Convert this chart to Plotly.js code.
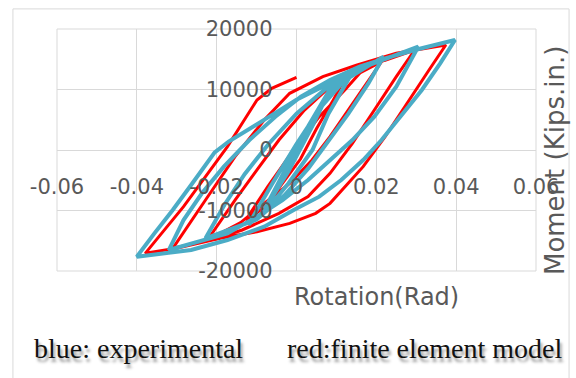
<!DOCTYPE html>
<html>
<head>
<meta charset="utf-8">
<script src="https://cdn.plot.ly/plotly-3.0.1.min.js"></script>
<style>
  body { margin: 0; background: #ffffff; }
  #chart { width: 576px; height: 378px; }
</style>
</head>
<body>
<div id="chart"></div>
<script>
// finite element model (red) - rotation (rad) / moment (kips.in.)
const redRotation = [
    0, 0.004, 0.009, 0.013, 0.009, 0.005, 0.001, -0.004, -0.008, -0.0127,
    -0.0072, -0.0007, 0.0057, 0.0121, 0.016, 0.0213,
    0.0176, 0.013, 0.0084, 0.0039, -0.0017, -0.0081, -0.014, -0.0223,
    -0.0154, -0.0099, -0.0044, 0.002, 0.0084, 0.015, 0.022, 0.0296,
    0.025, 0.0195, 0.014, 0.0084, 0.0029, -0.0044, -0.0136, -0.022, -0.031,
    -0.0228, -0.0154, -0.0081, -0.0017, 0.0066, 0.015, 0.025, 0.0374,
    0.0332, 0.0277, 0.0222, 0.0167, 0.0121, 0.0084, 0.0048, -0.0017, -0.0099, -0.0191, -0.0301, -0.0379,
    -0.0338, -0.0283, -0.0228, -0.0173, -0.0136, -0.0099, -0.0062, 0
];
const redMoment = [
    0, 5000, 10000, 12950, 8000, 3500, -1500, -6000, -9500, -11570,
    -6060, 0, 5510, 9920, 12800, 14600,
    11020, 6610, 2200, -1650, -5510, -8820, -12000, -14880,
    -8270, -3300, 1650, 6600, 10470, 13000, 14800, 16530,
    12120, 6610, 1100, -3860, -7710, -10470, -13220, -15000, -16250,
    -8270, -1100, 4960, 9370, 12120, 14000, 16000, 17360,
    13220, 7710, 2200, -2750, -6060, -8820, -10470, -12120, -13500, -14600, -16250, -17080,
    -13780, -9370, -4410, 550, 4410, 8265, 10200, 12000
];

// experimental (blue)
const blueRotation = [
    0, 0.004, 0.009, 0.004, -0.002, -0.008, -0.003, 0.003,
    0.007, 0.01, 0.014, 0.008, 0.004, -0.002, -0.007, -0.012,
    -0.006, 0, 0.006, 0.012, 0.0218,
    0.018, 0.013, 0.008, 0.003, -0.003, -0.01, -0.0228,
    -0.018, -0.013, -0.007, 0, 0.008, 0.016, 0.0305,
    0.025, 0.0195, 0.014, 0.0084, 0.0029, -0.0035, -0.0099, -0.0173, -0.032,
    -0.0283, -0.0237, -0.0182, -0.0118, -0.0053, 0.0011, 0.0084, 0.0158, 0.0222, 0.0296, 0.0397,
    0.036, 0.0314, 0.0268, 0.0213, 0.0167, 0.0112, 0.0057, -0.0007, -0.0081, -0.0173, -0.0264, -0.04,
    -0.0356, -0.031, -0.0264, -0.0235, -0.0205, -0.017, -0.012, -0.0068, 0, 0.0083, 0.013
];
const blueMoment = [
    0, 5000, 10800, 4000, -3500, -9800, -3500, 4000,
    8500, 10800, 12800, 6000, 0, -5500, -9500, -12300,
    -5500, 1000, 7000, 11500, 15430,
    11000, 6000, 1500, -3000, -7500, -11500, -14600,
    -9000, -4000, 1000, 6000, 10500, 13500, 17080,
    10470, 5510, 1650, -1650, -4960, -8270, -11020, -13780, -16530,
    -11570, -7160, -2750, 1650, 5510, 8820, 11570, 13780, 15150, 16530, 18180,
    14330, 9920, 6060, 1650, -1650, -4960, -7710, -9920, -12670, -14880, -16530, -17630,
    -13780, -9920, -5790, -3000, -400, 1400, 3500, 5510, 8300, 11020, 12950
];

const xTickVals = [-0.06, -0.04, -0.02, 0, 0.02, 0.04, 0.06];
const xTickText = ['-0.06', '-0.04', '-0.02', '0', '0.02', '0.04', '0.06'];
const yTickVals = [-20000, -10000, 0, 10000, 20000];
const yTickText = ['-20000', '-10000', '0', '10000', '20000'];

const labelFont = { family: 'DejaVu Sans', size: 21, color: '#595959' };
const captionFont = { family: 'Liberation Serif', size: 28, color: '#111111', shadow: '2px 4px 3px #9a9a9a' };

const traces = [
    {
        x: redRotation, y: redMoment,
        type: 'scatter', mode: 'lines',
        line: { color: '#ff0000', width: 3 },
        name: 'finite element model'
    },
    {
        x: blueRotation, y: blueMoment,
        type: 'scatter', mode: 'lines',
        line: { color: '#4bacc6', width: 4 },
        name: 'experimental'
    }
];

const layout = {
    width: 576,
    height: 378,
    margin: { l: 57, r: 40, t: 29, b: 107 },
    paper_bgcolor: '#ffffff',
    plot_bgcolor: '#ffffff',
    showlegend: false,
    xaxis: {
        range: [-0.06, 0.06],
        tickvals: xTickVals,
        ticktext: xTickText,
        ticks: '',
        tickfont: labelFont,
        showgrid: true,
        gridcolor: '#d9d9d9',
        zeroline: true,
        zerolinecolor: '#d9d9d9',
        zerolinewidth: 1,
        showline: false,
        anchor: 'free',
        position: 0.41
    },
    yaxis: {
        range: [-20000, 20000],
        tickvals: yTickVals,
        ticktext: yTickText,
        ticks: '',
        tickfont: labelFont,
        showgrid: true,
        gridcolor: '#d9d9d9',
        zeroline: true,
        zerolinecolor: '#d9d9d9',
        zerolinewidth: 1,
        showline: false,
        anchor: 'free',
        position: 0.45
    },
    shapes: [
        { type: 'rect', xref: 'paper', yref: 'paper', x0: 0, x1: 1, y0: 0, y1: 1,
          line: { color: '#d9d9d9', width: 1 }, layer: 'below' },
        { type: 'rect', xref: 'paper', yref: 'paper', x0: -0.092, x1: 1.069, y0: -0.5, y1: 1.083,
          line: { color: '#d9d9d9', width: 1 }, layer: 'below' }
    ],
    annotations: [
        { text: 'Rotation(Rad)', xref: 'paper', yref: 'paper', x: 0.666, y: -0.107,
          xanchor: 'center', yanchor: 'middle', showarrow: false,
          font: { family: 'DejaVu Sans', size: 24, color: '#595959' } },
        { text: 'Moment (Kips.in.)', xref: 'paper', yref: 'paper', x: 1.04, y: 0.455,
          xanchor: 'center', yanchor: 'middle', textangle: -90, showarrow: false,
          font: { family: 'DejaVu Sans', size: 26, color: '#595959' } },
        { text: 'blue: experimental', xref: 'paper', yref: 'paper', x: -0.052, y: -0.322,
          xanchor: 'left', yanchor: 'middle', showarrow: false, font: captionFont },
        { text: 'red:finite element model', xref: 'paper', yref: 'paper', x: 0.476, y: -0.322,
          xanchor: 'left', yanchor: 'middle', showarrow: false, font: captionFont }
    ]
};

Plotly.newPlot('chart', traces, layout, { staticPlot: true });
</script>
</body>
</html>
